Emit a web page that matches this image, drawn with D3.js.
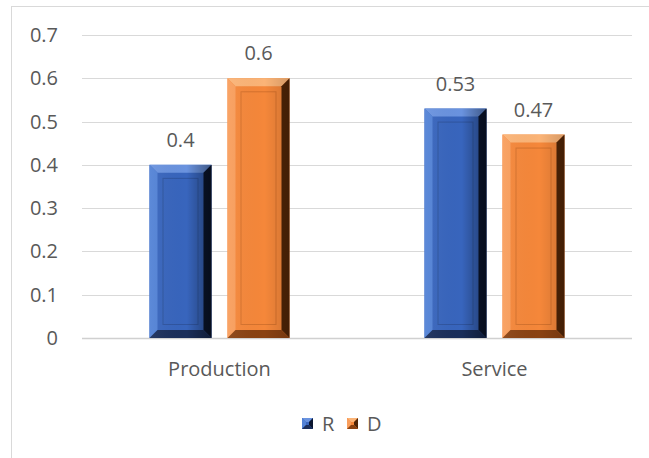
<!DOCTYPE html>
<html>
<head>
<style>
  body { margin: 0; background: #fff; }
  text { font-family: "Open Sans", "Liberation Sans", sans-serif; fill: #595959; }
</style>
<script src="https://d3js.org/d3.v7.min.js"></script>
</head>
<body>
<script>
const categories = ["Production", "Service"];
const seriesNames = ["R", "D"];
const rValues = [0.4, 0.53];
const dValues = [0.6, 0.47];
const valueLabels = [["0.4", "0.53"], ["0.6", "0.47"]];
const yTicks = [0, 0.1, 0.2, 0.3, 0.4, 0.5, 0.6, 0.7];

const w = 649, h = 458;
const plotLeft = 82, plotRight = 632, plotTop = 35, plotBottom = 338;
const fontSize = "20px";

const colors = {
  R: { base: "#3865bd", light: "#5282d6", top: "#6a93df", dark: "#1a2e5a", darker: "#0b1630" },
  D: { base: "#f5873a", light: "#f99e5c", top: "#fbb477", dark: "#8a4212", darker: "#4f2406" }
};

const svg = d3.select("body").append("svg").attr("width", w).attr("height", h);

// outer frame
svg.append("rect").attr("x", 11.5).attr("y", 6.5).attr("width", 700).attr("height", 600)
  .attr("fill", "none").attr("stroke", "#d9d9d9");

const x0 = d3.scaleBand().domain(categories).range([plotLeft, plotRight]).paddingInner(0).paddingOuter(0);
const y = d3.scaleLinear().domain([0, 0.7]).range([plotBottom, plotTop]);

// gridlines
svg.append("g").selectAll("line").data(yTicks).join("line")
  .attr("x1", plotLeft).attr("x2", plotRight)
  .attr("y1", d => Math.round(y(d)) + 0.5).attr("y2", d => Math.round(y(d)) + 0.5)
  .attr("stroke", d => d === 0 ? "#d0d0d0" : "#d9d9d9").attr("stroke-width", d => d === 0 ? 1.5 : 1);

// y tick labels
svg.append("g").selectAll("text").data(yTicks).join("text")
  .attr("x", 58).attr("y", d => y(d)).attr("dy", "0.35em").attr("text-anchor", "end")
  .style("font-size", fontSize).text(d => d === 0 ? "0" : d3.format(".1f")(d));

// x labels
svg.append("g").selectAll("text").data(categories).join("text")
  .attr("x", d => x0(d) + x0.bandwidth() / 2).attr("y", 369).attr("dy", "0.35em")
  .attr("text-anchor", "middle").style("font-size", fontSize).text(d => d);

const barW = 62, gap = 16;
const x1 = d3.scaleOrdinal().domain(seriesNames).range([-(barW + gap / 2), gap / 2]);

const bars = [];
categories.forEach((c, i) => {
  bars.push({ cat: c, s: "R", v: rValues[i], label: valueLabels[0][i] });
  bars.push({ cat: c, s: "D", v: dValues[i], label: valueLabels[1][i] });
});

function bevel(g, x, yt, bw, bh, col, b) {
  const x2 = x + bw, yb = yt + bh;
  g.append("rect").attr("x", x).attr("y", yt).attr("width", bw).attr("height", bh).attr("fill", col.base);
  // top
  g.append("polygon").attr("points", [[x, yt], [x2, yt], [x2 - b, yt + b], [x + b, yt + b]].join(" ")).attr("fill", col.top);
  // left
  g.append("polygon").attr("points", [[x, yt], [x + b, yt + b], [x + b, yb - b], [x, yb]].join(" ")).attr("fill", col.light);
  // right
  g.append("polygon").attr("points", [[x2, yt], [x2, yb], [x2 - b, yb - b], [x2 - b, yt + b]].join(" ")).attr("fill", col.darker);
  // bottom
  g.append("polygon").attr("points", [[x, yb], [x2, yb], [x2 - b, yb - b], [x + b, yb - b]].join(" ")).attr("fill", col.dark);
  // inner highlight line
  g.append("rect").attr("x", x + b + 5.5).attr("y", yt + b + 5.5).attr("width", Math.max(0, bw - 2 * b - 11)).attr("height", Math.max(0, bh - 2 * b - 11))
    .attr("fill", "none").attr("stroke", col.dark).attr("stroke-opacity", 0.3);
}

const defs = svg.append("defs");
seriesNames.forEach(s => {
  const gr = defs.append("linearGradient").attr("id", "g" + s).attr("x1", 0).attr("x2", 1).attr("y1", 0).attr("y2", 0);
  gr.append("stop").attr("offset", "0%").attr("stop-color", "#fff").attr("stop-opacity", 0.06);
  gr.append("stop").attr("offset", "60%").attr("stop-color", "#000").attr("stop-opacity", 0);
  gr.append("stop").attr("offset", "100%").attr("stop-color", "#000").attr("stop-opacity", s === "R" ? 0.4 : 0.15);
});

const bg = svg.append("g");
bars.forEach(d => {
  const bx = x0(d.cat) + x0.bandwidth() / 2 + x1(d.s);
  const yt = y(d.v);
  const g = bg.append("g");
  bevel(g, bx, yt, barW, plotBottom - yt, colors[d.s], 8);
  g.append("rect").attr("x", bx).attr("y", yt).attr("width", barW).attr("height", plotBottom - yt).attr("fill", "url(#g" + d.s + ")");
  svg.append("text").attr("x", bx + barW / 2).attr("y", yt - 25).attr("dy", "0.35em")
    .attr("text-anchor", "middle").style("font-size", fontSize).text(d.label);
});

// legend
const legend = svg.append("g").attr("transform", "translate(302,418)");
seriesNames.forEach((s, i) => {
  const g = legend.append("g").attr("transform", `translate(${i * 45},0)`);
  bevel(g, 0, 0, 11, 11, colors[s], 4);
  g.append("text").attr("x", 20).attr("y", 6).attr("dy", "0.35em").style("font-size", fontSize).text(s);
});
</script>
</body>
</html>
